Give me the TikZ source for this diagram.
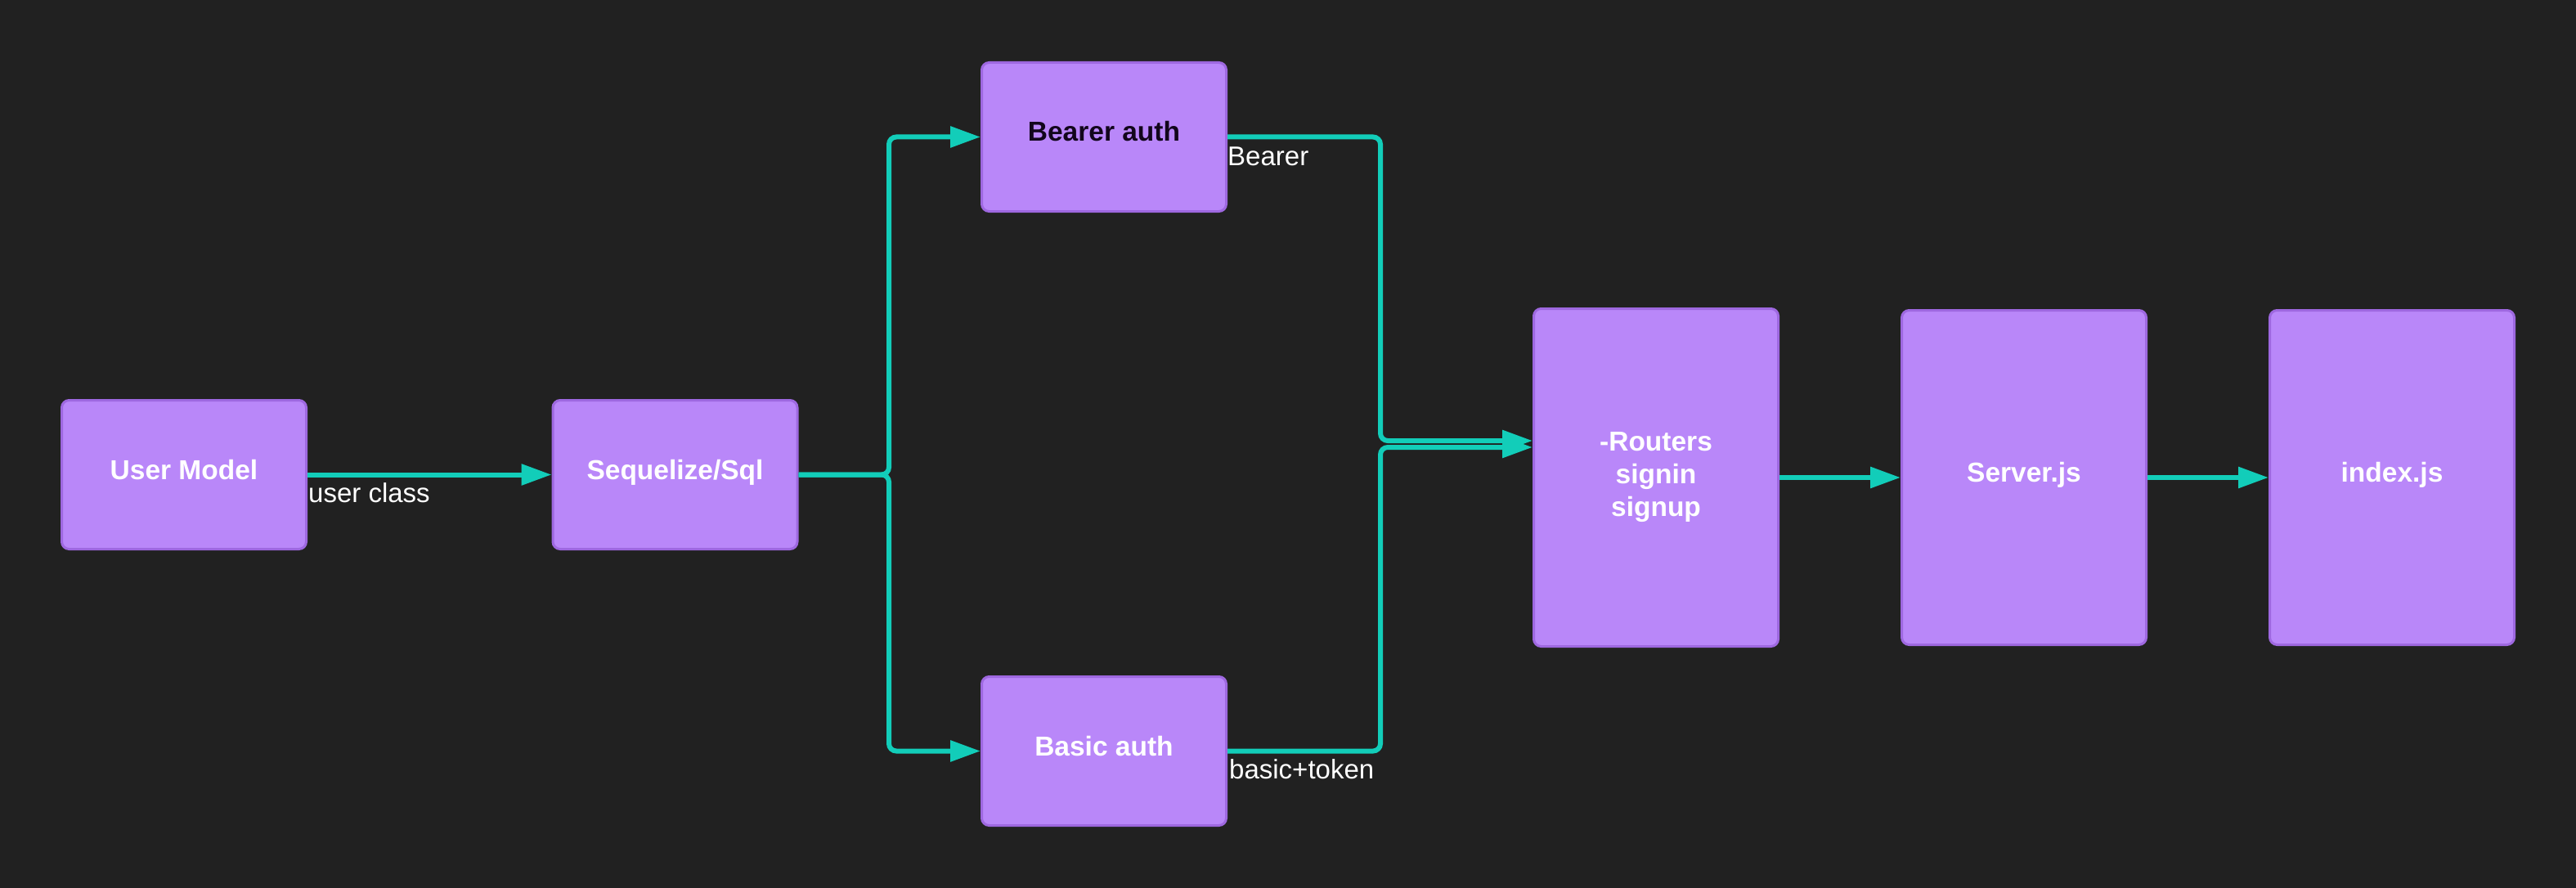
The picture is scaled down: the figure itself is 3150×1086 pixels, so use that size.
\documentclass[tikz,border=0pt]{standalone}
\usepackage{fontspec}
\setmainfont{Liberation Sans}
\usetikzlibrary{arrows.meta}
\definecolor{bgc}{RGB}{33,33,33}
\definecolor{boxfill}{RGB}{185,135,249}
\definecolor{boxborder}{RGB}{158,104,224}
\definecolor{tealc}{RGB}{18,205,185}
\definecolor{darktext}{RGB}{18,6,28}
\begin{document}
\begin{tikzpicture}[x=1pt,y=-1pt,
  box/.style={draw=boxborder, fill=boxfill, line width=3pt, rounded corners=9pt,
    minimum width=299pt, minimum height=182pt, inner sep=0pt,
    font=\fontsize{33.5}{40}\selectfont\bfseries, text=white, align=center},
  onebox/.style={box, text height=24pt, text depth=13pt},
  conn/.style={draw=tealc, line width=6pt, rounded corners=9pt,
    -{Triangle[length=37pt,width=25pt]}},
  lbl/.style={text=white, font=\fontsize{33}{40}\selectfont, inner sep=0pt, anchor=west}]
\fill[bgc] (0,0) rectangle (3150,1086);
\useasboundingbox (0,0) rectangle (3150,1086);

\node[onebox] (user) at (225,580.5) {User Model};
\node[onebox] (seq) at (825.5,580.5) {Sequelize/Sql};
\node[onebox, text=darktext] (bearer) at (1350,167.5) {Bearer auth};
\node[onebox] (basic) at (1350,918.5) {Basic auth};
\node[box, minimum height=413pt] (routers) at (2025,584) {-Routers\\signin\\signup};
\node[onebox, minimum height=409pt] (server) at (2475,584) {Server.js};
\node[onebox, minimum height=409pt] (index) at (2925,584) {index.js};

\coordinate (split) at (1087,580.5);
\coordinate (m1) at (1688,539);
\coordinate (m2) at (1688,547);
\coordinate (rin1) at ([yshift=45pt]routers.west);
\coordinate (rin2) at ([yshift=37pt]routers.west);

\draw[conn] (user.east) -- (seq.west);
\draw[conn] (seq.east) -- (split) |- (bearer.west);
\draw[conn] (seq.east) -- (split) |- (basic.west);
\draw[conn] (bearer.east) -| (m1) -- (rin1);
\draw[conn] (basic.east) -| (m2) -- (rin2);
\draw[conn] (routers.east) -- (server.west);
\draw[conn] (server.east) -- (index.west);

\node[lbl] (luser) at (377,603) {user class};
\node[lbl] (lbearer) at (1501,191) {Bearer};
\node[lbl] (lbasic) at (1503,941) {basic+token};
\end{tikzpicture}
\end{document}
